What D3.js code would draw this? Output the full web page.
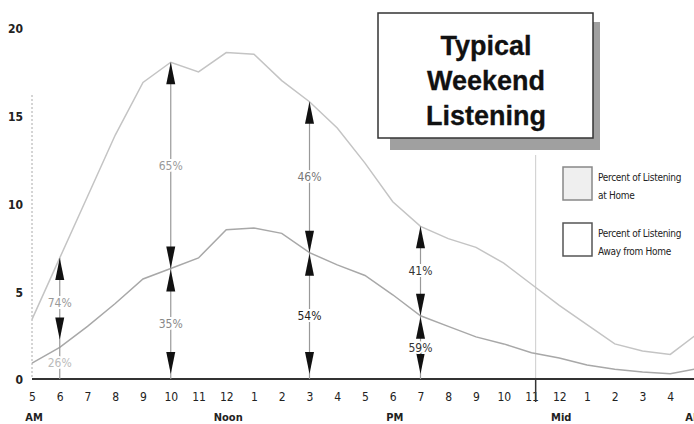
<!DOCTYPE html>
<html><head><meta charset="utf-8">
<script src="https://cdn.jsdelivr.net/npm/d3@7"></script>
<style>body{margin:0;background:#fff}svg{display:block}
.nar{font-family:'Liberation Sans Narrow','DejaVu Sans Condensed','DejaVu Sans',sans-serif;font-stretch:condensed}</style>
</head><body><svg id="c" width="694" height="424"></svg>
<script>
// ---- data ----
const hourLabels = ["5","6","7","8","9","10","11","12","1","2","3","4","5","6","7","8","9","10","11","12","1","2","3","4"];
const periodIndex = [0, 7, 13, 19, 24];
const periodText = ["AM", "Noon", "PM", "Mid", "AM"];
const yTicks = [0, 5, 10, 15, 20];
// total listening (upper line) and away-from-home listening (lower line), hourly from 5 AM to 5 AM
const totalListening = [3.4,6.9,10.4,13.9,16.9,18.05,17.5,18.6,18.5,17.0,15.8,14.3,12.3,10.1,8.7,8.0,7.5,6.6,5.4,4.2,3.1,2.0,1.6,1.4,2.6];
const awayListening  = [0.9,1.8,3.0,4.3,5.7,6.3,6.9,8.5,8.6,8.3,7.2,6.5,5.9,4.8,3.6,3.0,2.4,2.0,1.5,1.2,0.8,0.55,0.4,0.3,0.6];
const arrowIndex = [1, 5, 10, 14];
const upperLabels = ["74%", "65%", "46%", "41%"];
const lowerLabels = ["26%", "35%", "54%", "59%"];
const upperColors = ["#999", "#999", "#777", "#333"];
const lowerColors = ["#bbb", "#888", "#222", "#333"];
const titleLines = ["Typical", "Weekend", "Listening"];
const legendLines = [["Percent of Listening", "at Home"], ["Percent of Listening", "Away from Home"]];

// ---- drawing ----
const svg = d3.select("#c");
const x = d3.scaleLinear().domain([0, 24]).range([32, 698]);
const y = d3.scaleLinear().domain([0, 20]).range([379, 28]);

// left dotted guide
svg.append("line").attr("x1", x(0)).attr("x2", x(0)).attr("y1", 95).attr("y2", y(0))
  .attr("stroke", "#aaa").attr("stroke-width", 1).attr("stroke-dasharray", "2,2");
// midnight divider (light above axis)
const xd = x(18.15);
svg.append("line").attr("x1", xd).attr("x2", xd).attr("y1", 155).attr("y2", y(0))
  .attr("stroke", "#ccc").attr("stroke-width", 1);

// y axis labels
const yAxis = d3.axisLeft(y).tickValues(yTicks).tickSize(0).tickPadding(0);
const gy = svg.append("g").attr("transform", "translate(23,1)").call(yAxis);
gy.attr("font-family", null);
gy.select(".domain").remove();
gy.selectAll("text").attr("class", "nar").attr("font-size", 12).attr("font-weight", "bold").attr("fill", "#222");

// x axis labels
const xAxis = d3.axisBottom(x).tickValues(d3.range(hourLabels.length)).tickFormat(i => hourLabels[i]).tickSize(0).tickPadding(0);
const gx = svg.append("g").attr("transform", "translate(0,392)").call(xAxis);
gx.attr("font-family", null);
gx.select(".domain").remove();
gx.selectAll("text").attr("class", "nar").attr("font-size", 12).attr("fill", "#222");
svg.selectAll(".period").data(periodIndex).enter().append("text").attr("class", "nar")
  .attr("x", d => x(d) + (d === 24 ? -4 : 2)).attr("y", 421).attr("text-anchor", "middle")
  .attr("font-size", 11).attr("font-weight", "bold").attr("fill", "#222")
  .text((d, i) => periodText[i]);

// baseline
svg.append("line").attr("x1", x(0)).attr("x2", 694).attr("y1", y(0)).attr("y2", y(0))
  .attr("stroke", "#333").attr("stroke-width", 2);
svg.append("line").attr("x1", xd).attr("x2", xd).attr("y1", y(0)).attr("y2", 402)
  .attr("stroke", "#333").attr("stroke-width", 1.5);

// lines
const line = d3.line().x((d, i) => x(i)).y(d => y(d));
svg.append("path").datum(totalListening).attr("d", line).attr("fill", "none")
  .attr("stroke", "#c4c4c4").attr("stroke-width", 1.5);
svg.append("path").datum(awayListening).attr("d", line).attr("fill", "none")
  .attr("stroke", "#a8a8a8").attr("stroke-width", 1.5);

// arrows
function head(cx, tipY, dir) { // dir -1 = pointing up, +1 = pointing down
  const L = 22, W = 4.5;
  const baseY = tipY - dir * L;
  svg.append("path")
    .attr("d", `M${cx},${tipY} L${cx - W},${baseY} L${cx + W},${baseY} Z`)
    .attr("fill", "#111");
}
function label(cx, cy, txt, col) {
  svg.append("text").attr("class", "nar").attr("x", cx).attr("y", cy).attr("dy", "0.35em").attr("text-anchor", "middle")
    .attr("font-size", 12).attr("fill", col)
    .attr("stroke", "#fff").attr("stroke-width", 4).attr("paint-order", "stroke")
    .text(txt);
}
arrowIndex.forEach((idx, k) => {
  const cx = x(idx);
  const yt = y(totalListening[idx]);
  const ya = y(awayListening[idx]);
  const y0 = y(0);
  svg.append("line").attr("x1", cx).attr("x2", cx).attr("y1", yt).attr("y2", y0)
    .attr("stroke", "#999").attr("stroke-width", 1.2);
  head(cx, yt, -1);
  head(cx, ya - (y0 - ya < 45 ? 8 : 0), 1);
  if (y0 - ya > 45) {
    head(cx, ya + 1, -1);
    head(cx, y0 - 5, 1);
  }
  label(cx, (yt + ya) / 2, upperLabels[k], upperColors[k]);
  label(cx, (ya + y0) / 2, lowerLabels[k], lowerColors[k]);
});

// title box
svg.append("rect").attr("x", 390).attr("y", 22).attr("width", 210).attr("height", 128).attr("fill", "#a0a0a0");
svg.append("rect").attr("x", 378).attr("y", 13).attr("width", 215).attr("height", 125)
  .attr("fill", "#fff").attr("stroke", "#333").attr("stroke-width", 1.5);
svg.selectAll(".title").data(titleLines).enter().append("text")
  .attr("x", 486).attr("y", (d, i) => 55 + i * 35).attr("text-anchor", "middle")
  .attr("font-family", "'Liberation Sans',Arial,sans-serif").attr("font-weight", "bold")
  .attr("font-size", 27).attr("fill", "#111").attr("stroke", "#111").attr("stroke-width", 0.3)
  .text(d => d);

// legend
const legY = [167, 223];
const legFill = ["#efefef", "#fff"];
const legStroke = ["#888", "#555"];
legendLines.forEach((lines, i) => {
  svg.append("rect").attr("x", 563).attr("y", legY[i]).attr("width", 29).attr("height", 33)
    .attr("fill", legFill[i]).attr("stroke", legStroke[i]).attr("stroke-width", 1.5);
  lines.forEach((t, j) => {
    svg.append("text").attr("class", "nar").attr("x", 598).attr("y", legY[i] + 14 + j * 18)
      .attr("font-size", 10).attr("fill", "#222")
      .attr("letter-spacing", -0.3).text(t);
  });
});
</script></body></html>
